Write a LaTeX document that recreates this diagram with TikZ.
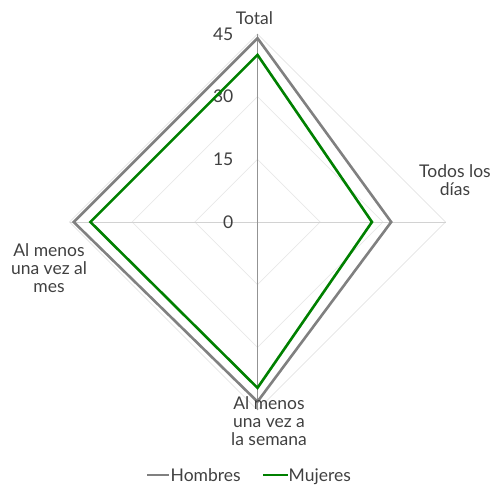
\documentclass[tikz,border=0pt]{standalone}
\usepackage{fontspec}
\setmainfont{Lato}
\definecolor{txtgray}{HTML}{404040}
\definecolor{hombres}{HTML}{808080}
\definecolor{mujeres}{HTML}{008000}
\tikzset{
  ring/.style={gray!18,line width=0.8pt},
  serie/.style={line width=2.6pt,line join=miter},
  lbl/.style={align=center,inner sep=0pt,anchor=base}
}
\begin{document}
\begin{tikzpicture}[x=1pt,y=-1pt,font=\fontsize{17.5}{17.8}\selectfont\color{txtgray}]
\useasboundingbox (0,0) rectangle (494,486);

\begin{scope}[shift={(257.5,222)}]
\foreach \v in {15,30,45}{\draw[ring] (0,-\v*4.178) -- (\v*4.178,0) -- (0,\v*4.178) -- (-\v*4.178,0) -- cycle;}
\draw[gray!35,line width=1pt] (-188,0) -- (188,0);
\draw[gray!85,line width=0.8pt] (0,-188) -- (0,188);
\foreach \v in {0,15,30,45}{\node[anchor=east,inner sep=0pt] (t\v) at (-24,-\v*4.178) {\v};}

% Hombres: Total, Todos los dias, semana, mes
\draw[serie,hombres] (0,-44*4.178) -- (32*4.178,0) -- (0,43*4.178) -- (-44*4.178,0) -- cycle;
% Mujeres
\draw[serie,mujeres] (0,-40*4.178) -- (27.4*4.178,0) -- (0,39.7*4.178) -- (-40*4.178,0) -- cycle;
\end{scope}

\node[lbl] (total) at (254.5,25) {Total};
\node[lbl] (todos) at (455,195) {Todos los\\días};
\node[lbl] (semana) at (269,445) {Al menos\\una vez a\\la semana};
\node[lbl] (mes) at (49,292) {Al menos\\una vez al\\mes};

% leyenda
\coordinate (h1) at (147,475); \coordinate (h2) at (169,475);
\coordinate (m1) at (263,475); \coordinate (m2) at (288,475);
\draw[hombres,line width=2.6pt] (h1) -- (h2);
\draw[mujeres,line width=2.6pt] (m1) -- (m2);
\node[inner sep=0pt,anchor=base west] (lh) at (170.5,481.7) {Hombres};
\node[inner sep=0pt,anchor=base west] (lm) at (288.5,481.7) {Mujeres};
\end{tikzpicture}
\end{document}
